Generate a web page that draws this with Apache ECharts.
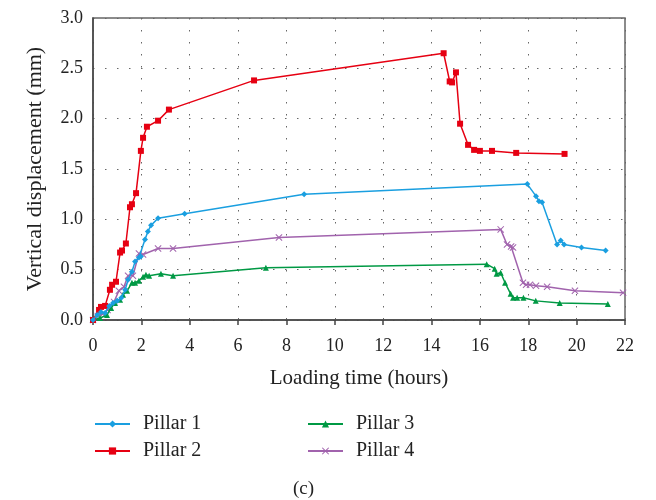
<!DOCTYPE html>
<html>
<head>
<meta charset="utf-8">
<script src="https://cdn.jsdelivr.net/npm/echarts@6/dist/echarts.min.js"></script>
<style>
  html, body { margin: 0; padding: 0; background: #fff; }
  #chart { width: 656px; height: 500px; }
</style>
</head>
<body>
<div id="chart"></div>
<script>
// 数据：[时间 (h), 位移 (mm)]
const pillar1 = [
  [0, 0], [0.17, 0.05], [0.33, 0.08], [0.5, 0.07], [0.67, 0.14], [0.83, 0.17],
  [1.0, 0.19], [1.17, 0.22], [1.33, 0.3], [1.45, 0.4], [1.61, 0.48], [1.74, 0.58],
  [1.9, 0.62], [1.98, 0.63], [2.15, 0.8], [2.27, 0.88], [2.4, 0.94], [2.69, 1.01],
  [3.79, 1.055], [8.73, 1.25], [17.96, 1.35], [18.32, 1.23], [18.44, 1.18],
  [18.57, 1.17], [19.19, 0.75], [19.34, 0.79], [19.48, 0.75], [20.2, 0.72], [21.2, 0.69]
];
const pillar2 = [
  [0, 0], [0.25, 0.1], [0.33, 0.13], [0.5, 0.14], [0.7, 0.3], [0.79, 0.35],
  [0.95, 0.38], [1.12, 0.67], [1.2, 0.69], [1.36, 0.76], [1.53, 1.12], [1.61, 1.15],
  [1.78, 1.26], [1.98, 1.68], [2.07, 1.81], [2.23, 1.92], [2.69, 1.98], [3.14, 2.09],
  [6.66, 2.38], [14.5, 2.65], [14.75, 2.37], [14.85, 2.36], [15.01, 2.46],
  [15.18, 1.95], [15.51, 1.74], [15.76, 1.69], [16.0, 1.68], [16.5, 1.68],
  [17.5, 1.66], [19.5, 1.65]
];
const pillar3 = [
  [0, 0], [0.29, 0.02], [0.58, 0.05], [0.75, 0.12], [0.91, 0.17], [1.12, 0.2],
  [1.24, 0.25], [1.41, 0.29], [1.61, 0.37], [1.74, 0.37], [1.9, 0.39], [2.07, 0.43],
  [2.19, 0.45], [2.32, 0.44], [2.81, 0.46], [3.31, 0.44], [7.15, 0.52],
  [16.28, 0.555], [16.61, 0.51], [16.69, 0.46], [16.86, 0.47], [17.04, 0.37],
  [17.27, 0.26], [17.37, 0.22], [17.54, 0.22], [17.8, 0.22], [18.31, 0.19],
  [19.3, 0.17], [21.29, 0.16]
];
const pillar4 = [
  [0, 0], [0.2, 0.04], [0.4, 0.06], [0.6, 0.1], [0.87, 0.18], [1.07, 0.29],
  [1.28, 0.33], [1.45, 0.44], [1.65, 0.44], [1.9, 0.66], [2.07, 0.65],
  [2.69, 0.71], [3.31, 0.71], [7.69, 0.82], [16.86, 0.9], [17.12, 0.75],
  [17.29, 0.73], [17.37, 0.72], [17.78, 0.37], [17.91, 0.35], [18.07, 0.35],
  [18.32, 0.34], [18.78, 0.33], [19.93, 0.29], [21.92, 0.27]
];

const names = ['Pillar 1', 'Pillar 2', 'Pillar 3', 'Pillar 4'];
const colors = ['#1a9fe0', '#e60012', '#009944', '#a163ad'];
const symbols = [
  'diamond',
  'rect',
  'triangle',
  'path://M0,1L1,0L5,4L9,0L10,1L6,5L10,9L9,10L5,6L1,10L0,9L4,5Z'
];
const symbolSizes = [6, 6, 6, 7];
const seriesData = [pillar1, pillar2, pillar3, pillar4];

const font = 'Liberation Serif';
const chart = echarts.init(document.getElementById('chart'));

const dotted = { color: '#666', width: 1, type: [1.5, 10.5] };
const legendText = { fontFamily: font, fontSize: 20, color: '#222', padding: [0, 0, 0, 8] };

chart.setOption({
  animation: false,
  textStyle: { fontFamily: font },
  grid: {
    left: 93, right: 31, top: 18, bottom: 180,
    show: true, borderColor: '#666', borderWidth: 1.5
  },
  xAxis: {
    type: 'value', min: 0, max: 22, interval: 2,
    name: 'Loading time (hours)', nameLocation: 'middle', nameGap: 48,
    nameTextStyle: { fontFamily: font, fontSize: 21, color: '#222' },
    axisLine: { lineStyle: { color: '#444', width: 1.5 } },
    axisTick: { inside: false, length: 5, lineStyle: { color: '#444', width: 1.5 } },
    axisLabel: { fontFamily: font, fontSize: 18, color: '#222', margin: 17 },
    splitLine: { show: true, lineStyle: dotted }
  },
  yAxis: {
    type: 'value', min: 0, max: 3, interval: 0.5,
    name: 'Vertical displacement (mm)', nameLocation: 'middle', nameGap: 47,
    nameTextStyle: { fontFamily: font, fontSize: 22, color: '#222' },
    axisLine: { show: true, lineStyle: { color: '#444', width: 1.5 } },
    axisTick: { show: false },
    axisLabel: {
      fontFamily: font, fontSize: 18, color: '#222', margin: 10,
      formatter: v => v.toFixed(1)
    },
    splitLine: { show: true, lineStyle: dotted }
  },
  legend: [
    {
      data: names.slice(0, 2), orient: 'vertical', left: 94, top: 414, padding: 0,
      itemWidth: 35, itemHeight: 9, itemGap: 7,
      textStyle: legendText
    },
    {
      data: names.slice(2, 4), orient: 'vertical', left: 307, top: 414, padding: 0,
      itemWidth: 35, itemHeight: 9, itemGap: 7,
      textStyle: legendText
    }
  ],
  graphic: [{
    type: 'text', left: 293, top: 480,
    style: { text: '(c)', font: '19px "Liberation Serif"', fill: '#222' }
  }],
  series: seriesData.map((d, i) => ({
    name: names[i],
    type: 'line',
    data: d,
    symbol: symbols[i],
    symbolSize: symbolSizes[i],
    showAllSymbol: true,
    lineStyle: { color: colors[i], width: 1.5 },
    itemStyle: { color: colors[i] },
    z: 10 - i
  }))
});
</script>
</body>
</html>
